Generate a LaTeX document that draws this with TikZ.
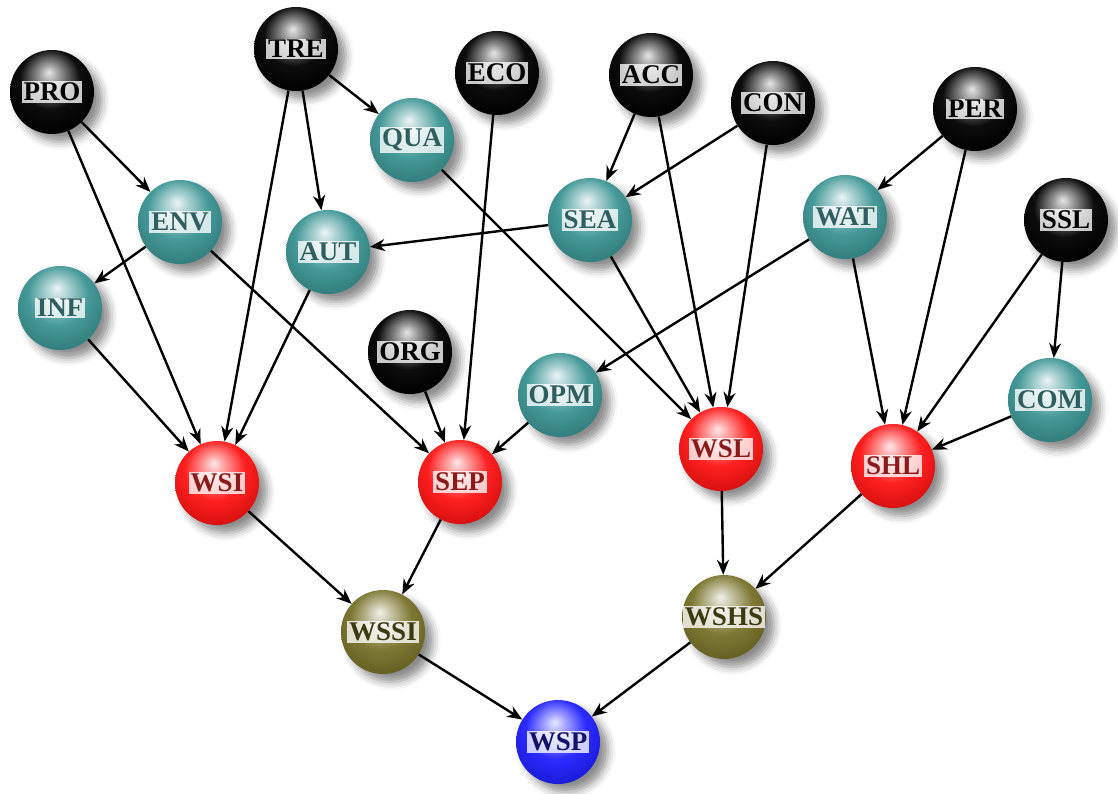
\documentclass[tikz,border=0pt]{standalone}
\usepackage{fontspec}
\setmainfont{Liberation Serif}
\usetikzlibrary{shadows.blur,arrows.meta}
\definecolor{tealball}{HTML}{3C9494}
\definecolor{tealtext}{HTML}{2E5E5E}
\definecolor{redball}{HTML}{FF1414}
\definecolor{redtext}{HTML}{8A1A1A}
\definecolor{oliveball}{HTML}{77722A}
\definecolor{olivetext}{HTML}{3C3A10}
\definecolor{blueball}{HTML}{2020FF}
\definecolor{bluetext}{HTML}{12126A}
\colorlet{sphcol}{black}
\pgfdeclareradialshading[sphcol]{sphere}{\pgfqpoint{-2bp}{12bp}}{%
  color(0bp)=(sphcol!10!white); color(6bp)=(sphcol!40!white);
  color(18bp)=(sphcol!95!white); color(30bp)=(sphcol!85!black);
  color(38bp)=(sphcol!70!black); color(50bp)=(sphcol!70!black)}
\tikzset{
 sphc/.code={\colorlet{sphcol}{#1}\pgfkeysalso{shading=sphere}},
 sph/.style={circle, minimum size=84pt, inner sep=0pt,
   blur shadow={shadow xshift=8pt, shadow yshift=-8pt, shadow blur radius=8pt, shadow opacity=45}},
 lbl/.style={fill=white, fill opacity=0.78, text opacity=1, inner xsep=2pt, inner ysep=1.5pt,
   font=\fontsize{27}{27}\selectfont\bfseries},
 nblk/.style={sph, sphc=black, label={[lbl,text=black]center:#1}},
 ntl/.style={sph, sphc=tealball, label={[lbl,text=tealtext]center:#1}},
 nrd/.style={sph, sphc=redball, label={[lbl,text=redtext]center:#1}},
 nol/.style={sph, sphc=oliveball, label={[lbl,text=olivetext]center:#1}},
 nbl/.style={sph, sphc=blueball, label={[lbl,text=bluetext]center:#1}},
 edg/.style={-{Stealth[length=15pt,width=12pt]}, line width=2.4pt}
}
\begin{document}
\begin{tikzpicture}[x=1pt,y=-1pt]
\useasboundingbox (0,0) rectangle (1118,794);
% black
\node[nblk=PRO] (pro) at (52,92) {};
\node[nblk=TRE] (tre) at (296,49) {};
\node[nblk=ECO] (eco) at (497,73) {};
\node[nblk=ACC] (acc) at (651,75) {};
\node[nblk=CON] (con) at (773,103) {};
\node[nblk=PER] (per) at (975,109) {};
\node[nblk=SSL] (ssl) at (1066,220) {};
\node[nblk=ORG] (org) at (410,352) {};
% teal
\node[ntl=QUA] (qua) at (412,140) {};
\node[ntl=ENV] (env) at (180,222) {};
\node[ntl=SEA] (sea) at (590,220) {};
\node[ntl=WAT] (wat) at (845,217) {};
\node[ntl=AUT] (aut) at (328,252) {};
\node[ntl=INF] (inf) at (60,308) {};
\node[ntl=OPM] (opm) at (560,395) {};
\node[ntl=COM] (com) at (1050,400) {};
% red
\node[nrd=WSI] (wsi) at (217,483) {};
\node[nrd=SEP] (sep) at (460,482) {};
\node[nrd=WSL] (wsl) at (721,449) {};
\node[nrd=SHL] (shl) at (893,466) {};
% olive
\node[nol=WSSI] (wssi) at (383,632) {};
\node[nol=WSHS] (wshs) at (724,617) {};
% blue
\node[nbl=WSP] (wsp) at (558,742) {};
% edges
\draw[edg] (pro) -- (env);
\draw[edg] (pro) -- (wsi);
\draw[edg] (tre) -- (qua);
\draw[edg] (tre) -- (aut);
\draw[edg] (tre) -- (wsi);
\draw[edg] (eco) -- (sep);
\draw[edg] (acc) -- (sea);
\draw[edg] (acc) -- (wsl);
\draw[edg] (con) -- (sea);
\draw[edg] (con) -- (wsl);
\draw[edg] (per) -- (wat);
\draw[edg] (per) -- (shl);
\draw[edg] (ssl) -- (com);
\draw[edg] (ssl) -- (shl);
\draw[edg] (qua) -- (wsl);
\draw[edg] (env) -- (inf);
\draw[edg] (env) -- (sep);
\draw[edg] (sea) -- (aut);
\draw[edg] (sea) -- (wsl);
\draw[edg] (wat) -- (opm);
\draw[edg] (wat) -- (shl);
\draw[edg] (aut) -- (wsi);
\draw[edg] (inf) -- (wsi);
\draw[edg] (org) -- (sep);
\draw[edg] (opm) -- (sep);
\draw[edg] (com) -- (shl);
\draw[edg] (wsi) -- (wssi);
\draw[edg] (sep) -- (wssi);
\draw[edg] (wsl) -- (wshs);
\draw[edg] (shl) -- (wshs);
\draw[edg] (wssi) -- (wsp);
\draw[edg] (wshs) -- (wsp);
\end{tikzpicture}
\end{document}
